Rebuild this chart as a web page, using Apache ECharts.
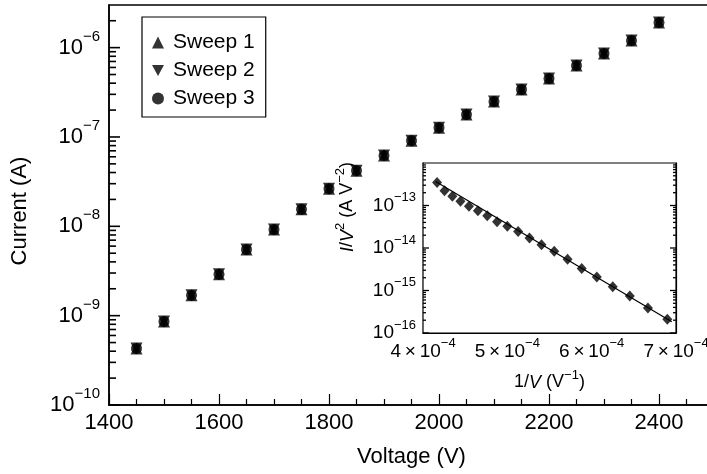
<!DOCTYPE html>
<html>
<head>
<meta charset="utf-8">
<script src="https://cdn.jsdelivr.net/npm/echarts@6/dist/echarts.min.js"></script>
<style>
  html, body { margin: 0; padding: 0; background: #fff; }
  #chart { width: 707px; height: 474px; }
</style>
</head>
<body>
<div id="chart"></div>
<script>
// Main panel: current vs. applied voltage, three sweeps
const voltage = [1450, 1500, 1550, 1600, 1650, 1700, 1750, 1800, 1850, 1900,
                 1950, 2000, 2050, 2100, 2150, 2200, 2250, 2300, 2350, 2400];
const sweep1 = [4.3e-10, 8.6e-10, 1.69e-9, 2.9e-9, 5.5e-9, 9.2e-9, 1.55e-8, 2.64e-8, 4.2e-8, 6.2e-8,
                9.1e-8, 1.27e-7, 1.78e-7, 2.49e-7, 3.4e-7, 4.51e-7, 6.3e-7, 8.6e-7, 1.2e-6, 1.91e-6];
const sweep2 = [4.3e-10, 8.6e-10, 1.69e-9, 2.9e-9, 5.5e-9, 9.2e-9, 1.55e-8, 2.64e-8, 4.2e-8, 6.2e-8,
                9.1e-8, 1.27e-7, 1.78e-7, 2.49e-7, 3.4e-7, 4.51e-7, 6.3e-7, 8.6e-7, 1.2e-6, 1.91e-6];
const sweep3 = [4.3e-10, 8.6e-10, 1.69e-9, 2.9e-9, 5.5e-9, 9.2e-9, 1.55e-8, 2.64e-8, 4.2e-8, 6.2e-8,
                9.1e-8, 1.27e-7, 1.78e-7, 2.49e-7, 3.4e-7, 4.51e-7, 6.3e-7, 8.6e-7, 1.2e-6, 1.91e-6];
const sweepNames = ['Sweep 1', 'Sweep 2', 'Sweep 3'];

// Inset: Fowler-Nordheim plot, I/V^2 against 1/V
const inverseVoltage = [4.167e-4, 4.255e-4, 4.348e-4, 4.444e-4, 4.545e-4, 4.651e-4, 4.762e-4, 4.878e-4, 5.0e-4, 5.128e-4,
                        5.263e-4, 5.405e-4, 5.556e-4, 5.714e-4, 5.882e-4, 6.061e-4, 6.25e-4, 6.452e-4, 6.667e-4, 6.897e-4];
const currentOverV2 = [3.49e-13, 2.23e-13, 1.65e-13, 1.26e-13, 9.65e-14, 7.5e-14, 5.75e-14, 4.17e-14, 3.25e-14, 2.44e-14,
                       1.71e-14, 1.2e-14, 8.36e-15, 5.45e-15, 3.3e-15, 2.08e-15, 1.22e-15, 7.38e-16, 3.88e-16, 2.12e-16];
const fitX = [4.15e-4, 6.95e-4];
const fitY = [3.65e-13, 1.84e-16];

// Tick labels
const mainXTicks = [1400, 1600, 1800, 2000, 2200, 2400];
const mainYDecades = [-10, -9, -8, -7, -6];
const insetXTicks = [4, 5, 6, 7];          // x 10^-4
const insetYDecades = [-16, -15, -14, -13];

const FONT = 'Liberation Sans';
const MINUS = '\u2212';
const BLACK = '#000';

function zip(a, b) { return a.map((v, i) => [v, b[i]]); }

function decadeFormatter(decades) {
  return function (v) {
    const e = Math.round(Math.log10(v));
    if (Math.abs(Math.log10(v) - e) > 1e-6 || decades.indexOf(e) < 0) return '';
    return '{b|10}{s|' + (e < 0 ? MINUS : '') + Math.abs(e) + '}';
  };
}

// minor tick positions m * 10^e on a log axis
function logMinor(loExp, hiExp, below) {
  const out = [];
  for (let e = loExp; e < hiExp; e++) {
    for (let m = 2; m <= 9; m++) out.push(m * Math.pow(10, e));
  }
  return out.filter(v => v < below);
}

// log-axis ticks drawn as thin bar symbols sitting on an axis edge
function tickBarSeries(xAxisIndex, yAxisIndex, xEdge, values, dir, len, thick) {
  return {
    type: 'scatter', xAxisIndex: xAxisIndex, yAxisIndex: yAxisIndex,
    clip: false, z: 10, large: false,
    symbol: 'rect', symbolSize: [len, thick], symbolOffset: [dir * len / 2, 0],
    symbolKeepAspect: false,
    itemStyle: { color: BLACK, opacity: 1 },
    emphasis: { disabled: true },
    data: values.map(v => [xEdge, v])
  };
}

const mainRich = {
  b: { fontSize: 22, fontFamily: FONT, color: BLACK },
  s: { fontSize: 15, fontFamily: FONT, color: BLACK, padding: [0, 0, 22, 0] }
};
const insetRich = {
  b: { fontSize: 19, fontFamily: FONT, color: BLACK },
  s: { fontSize: 13, fontFamily: FONT, color: BLACK, padding: [0, 0, 16, 0] }
};
const nameRich = {
  b: { fontSize: 18, fontFamily: FONT, color: BLACK },
  i: { fontSize: 18, fontFamily: FONT, color: BLACK, fontStyle: 'italic' },
  s: { fontSize: 13, fontFamily: FONT, color: BLACK, padding: [0, 0, 14, 0] }
};

const lineStyle = { color: BLACK, width: 1.5 };
const mainMinor = logMinor(-10, -5, 2.9e-6);
const mainMajor = mainYDecades.map(e => Math.pow(10, e));
const insetMinor = logMinor(-16, -12, 1e-12);
const insetMajor = insetYDecades.map(e => Math.pow(10, e));

const option = {
  backgroundColor: '#fff',
  animation: false,
  textStyle: { fontFamily: FONT, color: BLACK },
  grid: [
    { left: 109, top: 5, right: -7, bottom: 69, outerBoundsMode: 'none', containLabel: false,
      show: true, borderColor: BLACK, borderWidth: 1.5, backgroundColor: 'transparent' },
    { left: 423, top: 163, width: 253, height: 170, outerBoundsMode: 'none', containLabel: false,
      show: true, borderColor: BLACK, borderWidth: 1.2, backgroundColor: '#fff', z: 3 }
  ],
  legend: {
    data: sweepNames,
    orient: 'vertical',
    left: 142,
    top: 17,
    padding: [15, 11, 8, 10],
    itemGap: 7,
    itemWidth: 12,
    itemHeight: 12,
    borderColor: BLACK,
    borderWidth: 1.2,
    backgroundColor: '#fff',
    textStyle: { fontSize: 21, fontFamily: FONT, color: BLACK, padding: [0, 0, 0, 4] }
  },
  xAxis: [
    {
      gridIndex: 0, type: 'value', min: 1400, max: 2500, interval: 200,
      axisLine: { lineStyle: lineStyle },
      axisTick: { inside: true, length: 11, lineStyle: { color: BLACK, width: 1.2 } },
      minorTick: { show: true, splitNumber: 4, length: 6, lineStyle: { color: BLACK, width: 1.2 } },
      splitLine: { show: false },
      axisLabel: { fontSize: 22, color: BLACK, fontFamily: FONT, margin: 7, showMaxLabel: false,
                   formatter: v => (mainXTicks.indexOf(v) >= 0 ? String(v) : '') },
      name: 'Voltage (V)', nameLocation: 'middle', nameGap: 41,
      nameTextStyle: { fontSize: 22, color: BLACK, fontFamily: FONT }
    },
    {
      gridIndex: 1, type: 'value', min: 4e-4, max: 7e-4, interval: 1e-4,
      axisLine: { lineStyle: { color: BLACK, width: 1.2 } },
      axisTick: { inside: true, length: 6, lineStyle: { color: BLACK, width: 1 } },
      minorTick: { show: true, splitNumber: 12, length: 3, lineStyle: { color: BLACK, width: 1 } },
      splitLine: { show: false },
      axisLabel: {
        margin: 4,
        formatter: function (v) {
          const k = Math.round(v * 1e4);
          if (insetXTicks.indexOf(k) < 0) return '';
          return '{b|' + k + '\u2009\u00d7\u200910}{s|' + MINUS + '4}';
        },
        rich: insetRich
      },
      name: '{b|1/}{i|V}{b| (V}{s|' + MINUS + '1}{b|)}',
      nameLocation: 'middle', nameGap: 36,
      nameTextStyle: { rich: nameRich }
    },
    {
      gridIndex: 1, type: 'value', position: 'top', min: 4e-4, max: 7e-4, interval: 1e-4,
      axisLine: { lineStyle: { color: BLACK, width: 1.2 } },
      axisTick: { inside: true, length: 6, lineStyle: { color: BLACK, width: 1 } },
      minorTick: { show: true, splitNumber: 12, length: 3, lineStyle: { color: BLACK, width: 1 } },
      splitLine: { show: false },
      axisLabel: { show: false }
    }
  ],
  yAxis: [
    {
      gridIndex: 0, type: 'log', logBase: 10, min: 1e-10, max: 3e-6,
      axisLine: { lineStyle: lineStyle },
      axisTick: { show: false },
      splitLine: { show: false },
      axisLabel: { margin: 9, formatter: decadeFormatter(mainYDecades), rich: mainRich },
      name: 'Current (A)', nameLocation: 'middle', nameGap: 78,
      nameTextStyle: { fontSize: 22, color: BLACK, fontFamily: FONT, padding: [0, 12, 0, 0] }
    },
    {
      gridIndex: 1, type: 'log', logBase: 10, min: 1e-16, max: 1e-12,
      axisLine: { lineStyle: { color: BLACK, width: 1.2 } },
      axisTick: { show: false },
      splitLine: { show: false },
      axisLabel: { margin: 7, showMaxLabel: false, formatter: decadeFormatter(insetYDecades), rich: insetRich },
      name: '{i|I}{b|/}{i|V}{s|2}{b| (A V}{s|' + MINUS + '2}{b|)}',
      nameLocation: 'middle', nameGap: 62,
      nameTextStyle: { rich: nameRich, padding: [0, 0, 0, 82] }
    },
    {
      gridIndex: 1, type: 'log', logBase: 10, min: 1e-16, max: 1e-12, position: 'right',
      axisLine: { lineStyle: { color: BLACK, width: 1.2 } },
      axisTick: { show: false },
      splitLine: { show: false },
      axisLabel: { show: false }
    }
  ],
  series: [
    {
      name: sweepNames[0], type: 'scatter', xAxisIndex: 0, yAxisIndex: 0,
      symbol: 'triangle', symbolSize: 12, itemStyle: { color: BLACK },
      data: zip(voltage, sweep1)
    },
    {
      name: sweepNames[1], type: 'scatter', xAxisIndex: 0, yAxisIndex: 0,
      symbol: 'path://M0,0L10,0L5,9Z', symbolSize: 12, itemStyle: { color: BLACK },
      data: zip(voltage, sweep2)
    },
    {
      name: sweepNames[2], type: 'scatter', xAxisIndex: 0, yAxisIndex: 0,
      symbol: 'circle', symbolSize: 11, itemStyle: { color: BLACK },
      data: zip(voltage, sweep3)
    },
    tickBarSeries(0, 0, 1400, mainMajor, 1, 11, 1.6),
    tickBarSeries(0, 0, 1400, mainMinor, 1, 7, 1.6),
    {
      type: 'line', xAxisIndex: 1, yAxisIndex: 1, silent: true,
      symbol: 'none', lineStyle: { color: BLACK, width: 1.2 }, z: 4,
      data: zip(fitX, fitY)
    },
    {
      type: 'scatter', xAxisIndex: 1, yAxisIndex: 1, silent: true,
      symbol: 'diamond', symbolSize: [10, 11], itemStyle: { color: BLACK }, z: 4,
      data: zip(inverseVoltage, currentOverV2)
    },
    tickBarSeries(1, 1, 4e-4, insetMajor, 1, 6, 1.3),
    tickBarSeries(1, 1, 7e-4, insetMajor, -1, 6, 1.3),
    tickBarSeries(1, 1, 4e-4, insetMinor, 1, 3, 1.3),
    tickBarSeries(1, 1, 7e-4, insetMinor, -1, 3, 1.3)
  ]
};

const chart = echarts.init(document.getElementById('chart'), null, { renderer: 'canvas' });
chart.setOption(option);
</script>
</body>
</html>
